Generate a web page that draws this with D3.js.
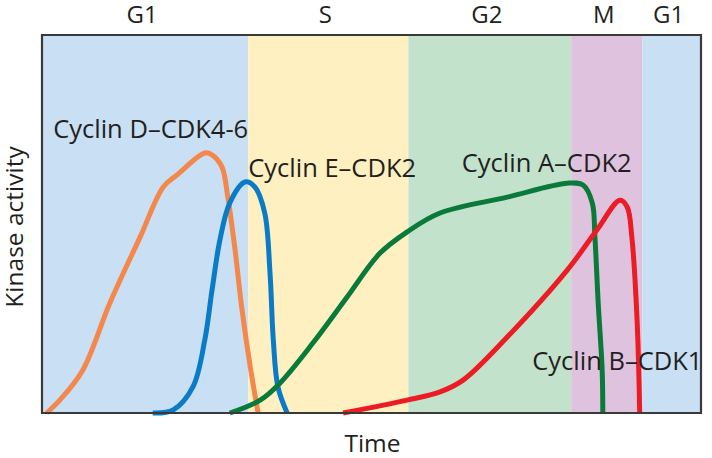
<!DOCTYPE html>
<html>
<head>
<meta charset="utf-8">
<script src="https://cdn.jsdelivr.net/npm/d3@7/dist/d3.min.js"></script>
<style>
  html, body { margin: 0; padding: 0; background: #ffffff; }
  svg { display: block; }
  text { font-family: "Open Sans", "Noto Sans", sans-serif; fill: #231f20; }
</style>
</head>
<body>
<svg id="chart" width="712" height="458"></svg>
<script>
// Cell-cycle phases (time units 0–100 across the plot)
const phaseNames = ["G1", "S", "G2", "M", "G1"];
const phaseStarts = [0, 31.3, 55.6, 80.3, 91.1];
const phaseEnds   = [31.3, 55.6, 80.3, 91.1, 100];
const phaseColors = ["#c9dff4", "#fef0c0", "#c2e2cc", "#dfc3de", "#c9dff4"];

// Kinase activity curves: [time, activity]
const cyclinD = [[0.7,0],[2.7,3.4],[6.2,11.4],[10.3,29.1],[14.9,46.6],[18.4,59.8],[20.5,63.0],[24.7,68.8],[25.8,68.3],[27.3,65.1],[28.2,57.1],[29.3,43.1],[30.3,28.0],[31.6,12.2],[32.8,0]];
const cyclinE = [[16.8,0],[19.9,0.8],[22.9,6.9],[24.7,19.3],[25.8,32.5],[27.0,45.8],[28.5,55.6],[30.8,61.1],[32.3,59.8],[33.8,52.9],[34.6,37.0],[35.1,19.3],[35.8,6.9],[37.2,0]];
const cyclinA = [[28.5,0],[33.1,3.4],[36.1,7.9],[41.1,18.5],[46.3,30.7],[51.3,42.3],[55.4,47.9],[60.4,52.9],[70.6,57.1],[79.7,60.8],[82.1,60.3],[83.5,55.6],[83.9,46.6],[84.4,29.1],[85.0,11.4],[85.1,0]];
const cyclinB = [[45.7,0],[55.4,3.4],[60.4,5.6],[63.9,8.7],[70.6,20.1],[79.7,37.8],[84.2,48.4],[87.7,56.3],[88.8,54.5],[89.5,46.6],[90.3,24.6],[90.7,0]];

const seriesNames  = ["Cyclin D–CDK4-6", "Cyclin E–CDK2", "Cyclin A–CDK2", "Cyclin B–CDK1"];
const seriesData   = [cyclinD, cyclinE, cyclinA, cyclinB];
const seriesColors = ["#f4874b", "#0a7bc6", "#0a7a3a", "#ec1c24"];
// label anchor (time, activity) for each series name
const labelAt = [[1.7,72.8],[31.3,62.4],[63.7,63.8],[74.4,11.4]];

const xLabel = "Time";
const yLabel = "Kinase activity";

const svg = d3.select("#chart");
const mLeft = 42, mRight = 701, mTop = 35, mBottom = 413;

const x = d3.scaleLinear().domain([0, 100]).range([mLeft, mRight]);
const y = d3.scaleLinear().domain([0, 100]).range([mBottom, mTop]);

// phase bands
svg.append("g").selectAll("rect")
  .data(phaseNames.map((n, i) => ({n, s: phaseStarts[i], e: phaseEnds[i], c: phaseColors[i]})))
  .join("rect")
  .attr("x", d => x(d.s))
  .attr("width", d => x(d.e) - x(d.s))
  .attr("y", y(100))
  .attr("height", y(0) - y(100))
  .attr("fill", d => d.c);

// phase labels
svg.append("g").selectAll("text")
  .data(phaseNames.map((n, i) => ({n, m: (phaseStarts[i] + phaseEnds[i]) / 2})))
  .join("text")
  .attr("x", d => x(d.m) - 3)
  .attr("y", 23)
  .attr("text-anchor", "middle")
  .style("font-size", "24px")
  .text(d => d.n);

// curves
const line = d3.line()
  .x(d => x(d[0]))
  .y(d => y(d[1]))
  .curve(d3.curveCatmullRom.alpha(0.5));

const plot = svg.append("g");
plot.selectAll("path")
  .data(seriesData)
  .join("path")
  .attr("d", line)
  .attr("fill", "none")
  .attr("stroke", (d, i) => seriesColors[i])
  .attr("stroke-width", 5)
  .attr("stroke-linecap", "butt")
  .attr("stroke-linejoin", "round");

// frame (axes)
svg.append("path")
  .attr("d", `M${x(0)},${y(100)}V${y(0)}H${x(100)}V${y(100)}Z`)
  .attr("fill", "none")
  .attr("stroke", "#3a3a3a")
  .attr("stroke-width", 2.2);

// series labels
svg.append("g").selectAll("text")
  .data(seriesNames.map((n, i) => ({n, p: labelAt[i]})))
  .join("text")
  .attr("x", d => x(d.p[0]))
  .attr("y", d => y(d.p[1]))
  .style("font-size", "25.5px")
  .text(d => d.n);

// axis titles
svg.append("text")
  .attr("x", (mLeft + mRight) / 2 + 1)
  .attr("y", 452)
  .attr("text-anchor", "middle")
  .style("font-size", "24.5px")
  .text(xLabel);

svg.append("text")
  .attr("transform", `translate(23,${(mTop + mBottom) / 2 + 3}) rotate(-90)`)
  .attr("text-anchor", "middle")
  .style("font-size", "24.5px")
  .text(yLabel);
</script>
</body>
</html>
